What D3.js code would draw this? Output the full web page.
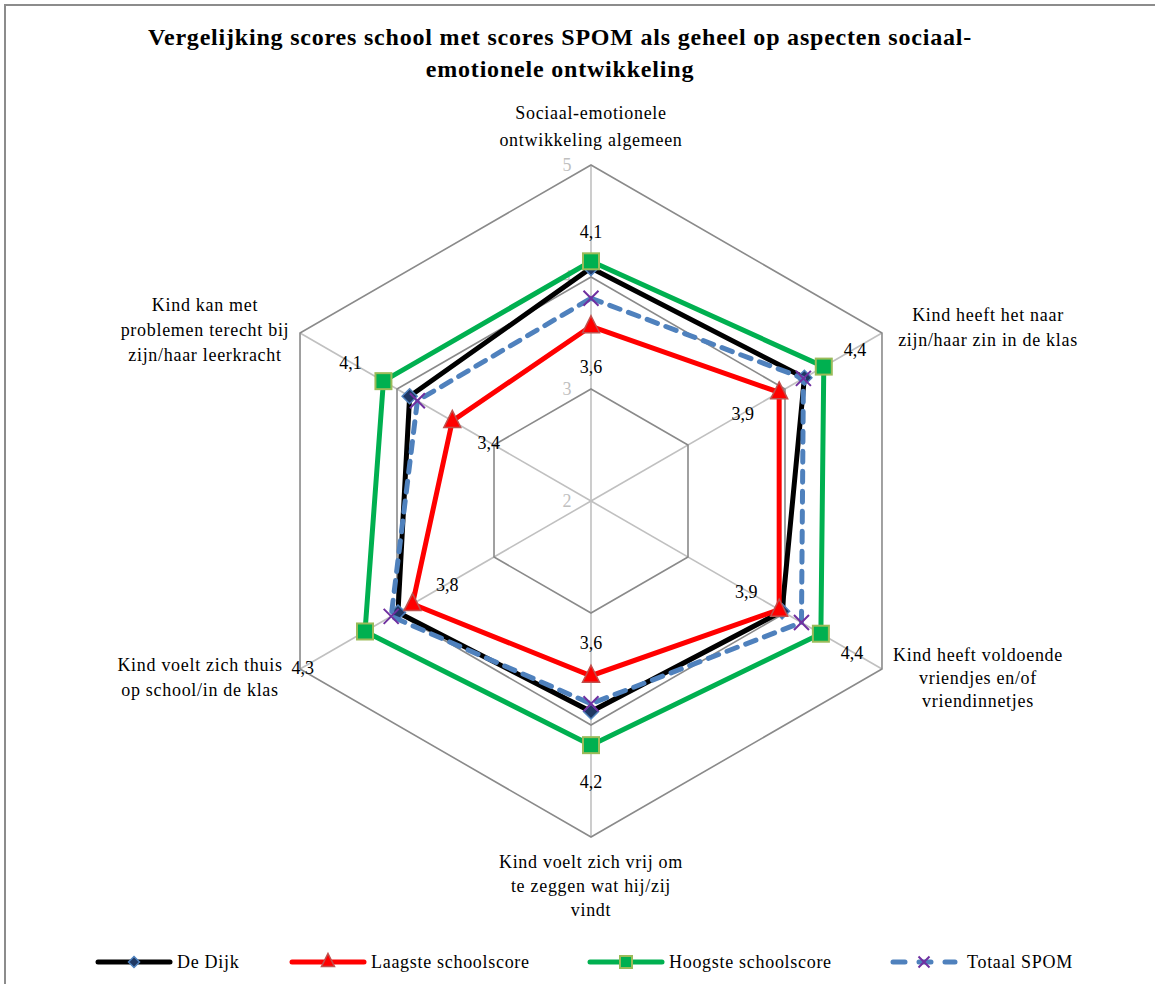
<!DOCTYPE html>
<html>
<head>
<meta charset="utf-8">
<script src="https://cdn.jsdelivr.net/npm/d3@7"></script>
<style>
  html, body { margin: 0; padding: 0; background: #fff; }
  svg { display: block; }
  text { font-family: "Liberation Serif", "Times New Roman", serif; }
</style>
</head>
<body>
<svg id="chart" width="1155" height="984"></svg>
<script>
// ---------- data ----------
const categories = [
  "Sociaal-emotionele ontwikkeling algemeen",
  "Kind heeft het naar zijn/haar zin in de klas",
  "Kind heeft voldoende vriendjes en/of vriendinnetjes",
  "Kind voelt zich vrij om te zeggen wat hij/zij vindt",
  "Kind voelt zich thuis op school/in de klas",
  "Kind kan met problemen terecht bij zijn/haar leerkracht"
];
const categoryLines = [
  ["Sociaal-emotionele", "ontwikkeling algemeen"],
  ["Kind heeft het naar", "zijn/haar zin in de klas"],
  ["Kind heeft  voldoende", "vriendjes en/of", "vriendinnetjes"],
  ["Kind voelt zich vrij om", "te zeggen  wat hij/zij", "vindt"],
  ["Kind voelt zich thuis", "op school/in  de klas"],
  ["Kind kan met", "problemen  terecht bij", "zijn/haar leerkracht"]
];
const seriesNames = ["De Dijk", "Laagste schoolscore", "Hoogste schoolscore", "Totaal SPOM"];
const deDijk   = [4.08, 4.20, 3.97, 3.88, 3.99, 3.87];
const laagste  = [3.56, 3.94, 3.94, 3.56, 3.84, 3.43];
const hoogste  = [4.14, 4.40, 4.37, 4.18, 4.33, 4.14];
const totaal   = [3.81, 4.19, 4.17, 3.81, 4.06, 3.79];
const tickValues = [2, 3, 4, 5];
const title = ["Vergelijking scores school met scores SPOM als geheel op aspecten sociaal-", "emotionele ontwikkeling"];

// ---------- layout ----------
const svg = d3.select("#chart");
const W = 1155, H = 984;
const cx = 591, cy = 501, R = 336;
const r = d3.scaleLinear().domain([2, 5]).range([0, R]);
const n = categories.length;
const ang = d3.scaleLinear().domain([0, n]).range([0, 2 * Math.PI]);
const pt = (i, v) => {
  const a = ang(i);
  return [cx + r(v) * Math.sin(a), cy - r(v) * Math.cos(a)];
};

// border
svg.append("rect").attr("x", 5).attr("y", 5).attr("width", W + 20).attr("height", H + 20)
  .attr("fill", "none").attr("stroke", "#8c8c8c").attr("stroke-width", 2);

// title
[45, 77].forEach((y, k) => {
  svg.append("text").attr("x", 560).attr("y", y).attr("text-anchor", "middle")
    .attr("font-size", 24).attr("font-weight", "bold").attr("letter-spacing", 0.8).text(title[k]);
});

const g = svg.append("g");

// spokes
d3.range(n).forEach(i => {
  const [x, y] = pt(i, 5);
  g.append("line").attr("x1", cx).attr("y1", cy).attr("x2", x).attr("y2", y)
    .attr("stroke", "#c0c0c0").attr("stroke-width", 1.6);
});
// hexagon grid
tickValues.filter(v => v > 2).forEach(v => {
  const pts = d3.range(n).map(i => pt(i, v));
  g.append("path").attr("d", d3.line()(pts) + "Z")
    .attr("fill", "none").attr("stroke", "#8a8a8a").attr("stroke-width", 1.6);
});
// tick labels
tickValues.forEach(v => {
  g.append("text").attr("x", cx - 24).attr("y", cy - r(v) + 6)
    .attr("text-anchor", "middle").attr("font-size", 18).attr("fill", "#bfbfbf").text(v);
});

// category labels
const catPos = [
  [591, 119, 27], [988, 321, 25], [978, 661, 23],
  [591, 868, 24], [200, 671, 25], [205, 311, 25]
];
categoryLines.forEach((lines, i) => {
  const [x, y, lh] = catPos[i];
  const t = g.append("text").attr("text-anchor", "middle").attr("font-size", 18)
    .attr("letter-spacing", 0.7).attr("fill", "#000");
  lines.forEach((l, k) => t.append("tspan").attr("x", x).attr("y", y + k * lh).text(l));
});

// series
const seriesData = [deDijk, laagste, hoogste, totaal];
const styles = [
  { stroke: "#000000", dash: null, marker: "diamond", fill: "#1f3864", mstroke: "#4f81bd", size: 15 },
  { stroke: "#ff0000", dash: null, marker: "triangle", fill: "#ff0000", mstroke: "#c0504d", size: 17 },
  { stroke: "#00b050", dash: null, marker: "square", fill: "#00b050", mstroke: "#9bbb59", size: 16 },
  { stroke: "#4f81bd", dash: "11,9", marker: "x", fill: "none", mstroke: "#7030a0", size: 15 }
];

function drawMarker(sel, type, x, y, s, st) {
  const h = s / 2;
  if (type === "diamond") {
    sel.append("path").attr("d", `M${x},${y - h}L${x + h},${y}L${x},${y + h}L${x - h},${y}Z`)
      .attr("fill", st.fill).attr("stroke", st.mstroke).attr("stroke-width", 1.5);
  } else if (type === "triangle") {
    sel.append("path").attr("d", `M${x},${y - h - 2}L${x + h},${y + h - 2}L${x - h},${y + h - 2}Z`)
      .attr("fill", st.fill).attr("stroke", st.mstroke).attr("stroke-width", 1.5);
  } else if (type === "square") {
    sel.append("rect").attr("x", x - h).attr("y", y - h).attr("width", s).attr("height", s)
      .attr("fill", st.fill).attr("stroke", st.mstroke).attr("stroke-width", 2);
  } else if (type === "x") {
    sel.append("path").attr("d", `M${x - h},${y - h}L${x + h},${y + h}M${x - h},${y + h}L${x + h},${y - h}`)
      .attr("stroke", st.mstroke).attr("stroke-width", 2).attr("fill", "none");
  }
}

const radial = d3.lineRadial().angle((d, i) => ang(i)).radius(d => r(d)).curve(d3.curveLinearClosed);
seriesData.forEach((vals, si) => {
  const st = styles[si];
  const sg = g.append("g");
  const p = sg.append("path").attr("transform", `translate(${cx},${cy})`)
    .attr("d", radial(vals)).attr("fill", "none")
    .attr("stroke", st.stroke).attr("stroke-width", 5).attr("stroke-linejoin", "miter");
  if (st.dash) p.attr("stroke-dasharray", st.dash).attr("stroke-linecap", "round");
  vals.forEach((v, i) => {
    const [x, y] = pt(i, v);
    drawMarker(sg, st.marker, x, y, st.size, st);
  });
});

// data labels (Laagste inside, Hoogste outside)
const fmt = v => d3.format(".1f")(v).replace(".", ",");
function dataLabel(i, v, off) {
  const a = ang(i);
  const x = cx + (r(v) + off) * Math.sin(a);
  const y = cy - (r(v) + off) * Math.cos(a);
  g.append("text").attr("x", x).attr("y", y + 7).attr("text-anchor", "middle")
    .attr("font-size", 18).attr("fill", "#000").text(fmt(v));
}
const lowOff = [-40, -42, -38, -34, -40, -42];
const highOff = [30, 36, 36, 36, 72, 38];
laagste.forEach((v, i) => dataLabel(i, v, lowOff[i]));
hoogste.forEach((v, i) => dataLabel(i, v, highOff[i]));

// legend
const legX = [98, 292, 590, 893];
const legY = 962;
seriesNames.forEach((name, si) => {
  const st = styles[si];
  const x0 = legX[si], len = si === 3 ? 62 : 72;
  const lg = svg.append("g");
  const l = lg.append("line").attr("x1", x0).attr("y1", legY).attr("x2", x0 + len).attr("y2", legY)
    .attr("stroke", st.stroke).attr("stroke-width", 5).attr("stroke-linecap", "round");
  if (st.dash) l.attr("stroke-dasharray", "12,14");
  drawMarker(lg, st.marker, x0 + len / 2, legY, st.size - 4, st);
  lg.append("text").attr("x", x0 + len + (si === 3 ? 12 : 7)).attr("y", legY + 6)
    .attr("font-size", 18).attr("letter-spacing", 0.7).attr("fill", "#000").text(name);
});
</script>
</body>
</html>
